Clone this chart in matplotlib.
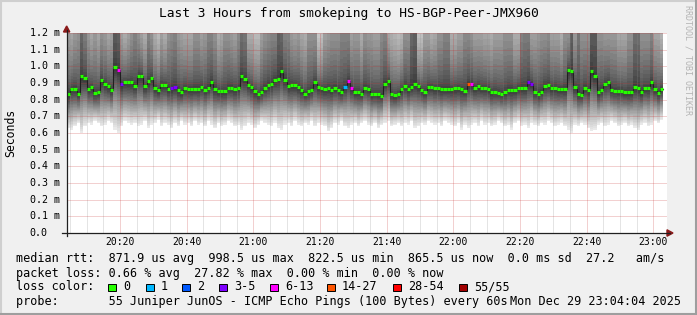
import matplotlib
matplotlib.use('Agg')
import matplotlib.pyplot as plt
from matplotlib.patches import Rectangle, Polygon
from matplotlib.lines import Line2D
import numpy as np

# median rtt per 60s step (ms), 20:04 .. 23:03
median_ms = [
    0.834, 0.866, 0.866, 0.836, 0.940, 0.930, 0.864, 0.874, 0.838, 0.844,
    0.920, 0.896, 0.880, 0.860, 0.9985, 0.976, 0.892, 0.906, 0.904, 0.904,
    0.884, 0.944, 0.944, 0.880, 0.910, 0.932, 0.870, 0.856, 0.890, 0.890,
    0.864, 0.868, 0.876, 0.856, 0.844, 0.872, 0.864, 0.864, 0.864, 0.864,
    0.878, 0.860, 0.872, 0.908, 0.864, 0.850, 0.850, 0.850, 0.872, 0.872,
    0.864, 0.870, 0.940, 0.924, 0.890, 0.876, 0.850, 0.834, 0.846, 0.872,
    0.890, 0.896, 0.916, 0.926, 0.970, 0.920, 0.880, 0.890, 0.886, 0.876,
    0.860, 0.836, 0.850, 0.860, 0.906, 0.876, 0.870, 0.864, 0.870, 0.860,
    0.870, 0.860, 0.846, 0.876, 0.910, 0.868, 0.844, 0.844, 0.836, 0.872,
    0.864, 0.834, 0.834, 0.834, 0.8225, 0.896, 0.914, 0.836, 0.826, 0.836,
    0.864, 0.884, 0.864, 0.876, 0.896, 0.880, 0.860, 0.846, 0.874, 0.878,
    0.868, 0.868, 0.864, 0.864, 0.864, 0.864, 0.868, 0.868, 0.864, 0.852,
    0.896, 0.892, 0.868, 0.880, 0.870, 0.872, 0.864, 0.844, 0.848, 0.840,
    0.834, 0.844, 0.860, 0.858, 0.856, 0.872, 0.872, 0.868, 0.904, 0.896,
    0.848, 0.836, 0.848, 0.884, 0.888, 0.868, 0.872, 0.864, 0.864, 0.864,
    0.980, 0.970, 0.876, 0.836, 0.830, 0.872, 0.856, 0.970, 0.940, 0.844,
    0.860, 0.896, 0.904, 0.860, 0.854, 0.854, 0.854, 0.844, 0.844, 0.844,
    0.876, 0.870, 0.844, 0.870, 0.870, 0.904, 0.864, 0.840, 0.8655,
]

# lost pings (of 55) where not zero
loss_steps = [15, 16, 31, 32, 83, 84, 85, 120, 121, 138, 139]
loss_counts = [8, 4, 4, 4, 1, 8, 7, 15, 9, 4, 4]

# pings slower than the 1.2 ms top of the chart, per step (smoke darkness at top)
slow_pings = [
    12, 11, 13, 14, 20, 17, 13, 11, 13, 11, 14, 13, 11, 12, 22, 21, 12, 10, 12, 14,
    16, 14, 12, 10, 16, 14, 10, 8, 12, 10, 14, 15, 16, 13, 12, 11, 11, 11, 14, 14,
    12, 13, 16, 16, 14, 10, 11, 14, 14, 13, 12, 15, 19, 18, 10, 10, 8, 8, 12, 14,
    15, 16, 16, 21, 20, 16, 16, 13, 12, 13, 11, 10, 14, 14, 14, 6, 7, 12, 13, 14,
    14, 14, 16, 16, 16, 12, 13, 13, 10, 14, 13, 13, 12, 12, 15, 16, 11, 10, 9, 8,
    9, 14, 14, 20, 21, 7, 7, 12, 12, 10, 11, 14, 14, 16, 16, 10, 10, 12, 12, 15,
    15, 14, 12, 12, 12, 11, 11, 10, 12, 12, 12, 14, 14, 14, 10, 10, 16, 17, 17, 12,
    12, 13, 14, 14, 15, 12, 12, 12, 10, 14, 14, 21, 13, 18, 14, 14, 14, 22, 22, 14,
    14, 13, 13, 13, 13, 11, 11, 11, 14, 14, 19, 19, 14, 14, 14, 16, 11, 11, 9,
]

# fastest ping per step (ms), bottom edge of the smoke
min_ms = [
    0.63, 0.62, 0.64, 0.66, 0.60, 0.64, 0.66, 0.65, 0.67, 0.66,
    0.64, 0.65, 0.67, 0.66, 0.62, 0.60, 0.64, 0.67, 0.66, 0.65,
    0.66, 0.64, 0.65, 0.67, 0.63, 0.65, 0.66, 0.68, 0.64, 0.66,
    0.65, 0.63, 0.66, 0.64, 0.67, 0.65, 0.66, 0.64, 0.67, 0.65,
    0.66, 0.64, 0.67, 0.65, 0.63, 0.66, 0.64, 0.65, 0.67, 0.66,
    0.64, 0.65, 0.62, 0.64, 0.66, 0.65, 0.63, 0.65, 0.67, 0.66,
    0.65, 0.64, 0.66, 0.63, 0.62, 0.65, 0.66, 0.64, 0.67, 0.65,
    0.64, 0.66, 0.65, 0.67, 0.64, 0.66, 0.65, 0.64, 0.61, 0.63,
    0.66, 0.65, 0.67, 0.64, 0.63, 0.65, 0.66, 0.64, 0.66, 0.67,
    0.65, 0.64, 0.66, 0.63, 0.65, 0.66, 0.67, 0.64, 0.65, 0.66,
    0.64, 0.66, 0.65, 0.67, 0.63, 0.64, 0.66, 0.65, 0.67, 0.66,
    0.65, 0.66, 0.64, 0.67, 0.66, 0.65, 0.64, 0.66, 0.62, 0.65,
    0.63, 0.65, 0.66, 0.64, 0.67, 0.65, 0.66, 0.64, 0.65, 0.67,
    0.66, 0.64, 0.65, 0.62, 0.66, 0.67, 0.64, 0.65, 0.63, 0.66,
    0.65, 0.64, 0.66, 0.65, 0.67, 0.66, 0.64, 0.65, 0.66, 0.64,
    0.62, 0.60, 0.65, 0.64, 0.66, 0.65, 0.63, 0.61, 0.62, 0.65,
    0.66, 0.64, 0.65, 0.67, 0.66, 0.64, 0.65, 0.66, 0.64, 0.65,
    0.63, 0.62, 0.65, 0.66, 0.64, 0.65, 0.67, 0.66, 0.68,
]

# x axis: minutes after 20:04
major_ticks = [16, 36, 56, 76, 96, 116, 136, 156, 176]
major_labels = ['20:20', '20:40', '21:00', '21:20', '21:40', '22:00', '22:20', '22:40', '23:00']
y_ticks = [0.0, 0.1, 0.2, 0.3, 0.4, 0.5, 0.6, 0.7, 0.8, 0.9, 1.0, 1.1, 1.2]
y_labels = ['0.0', '0.1 m', '0.2 m', '0.3 m', '0.4 m', '0.5 m', '0.6 m', '0.7 m',
            '0.8 m', '0.9 m', '1.0 m', '1.1 m', '1.2 m']

loss_labels = ['0', '1', '2', '3-5', '6-13', '14-27', '28-54', '55/55']
loss_upper = [0, 1, 2, 5, 13, 27, 54, 55]
loss_colors = ['#26ff00', '#00b8ff', '#0059ff', '#7e00ff', '#ff00ff', '#ff5500', '#ff0000', '#a10000']

W, H = 697, 315
MONO = 'DejaVu Sans Mono'
plt.rcParams['font.family'] = MONO


def fx(x):
    return x / W


def fy(y):
    return 1 - y / H


fig = plt.figure(figsize=(W / 100, H / 100), dpi=100, facecolor='#f0f0f0')

# 3d frame
fig.add_artist(Line2D([0, 1], [fy(1), fy(1)], color='#cfcfcf', lw=1.5))
fig.add_artist(Line2D([fx(1), fx(1)], [0, 1], color='#cfcfcf', lw=1.5))
fig.add_artist(Line2D([0, 1], [fy(314), fy(314)], color='#9e9e9e', lw=1.5))
fig.add_artist(Line2D([fx(696), fx(696)], [0, 1], color='#9e9e9e', lw=1.5))

ax = fig.add_axes([fx(66.67), fy(233), 600 / W, 200 / H])
ax.set_xlim(0, 180)
ax.set_ylim(0, 1.2)
ax.set_facecolor('white')
for s in ax.spines.values():
    s.set_visible(False)
ax.set_xticks([])
ax.set_yticks([])

n = len(median_ms)
med = np.array(median_ms)
xs = np.arange(n)
edges = np.arange(n + 1)

# smoke: 55 pings sorted, painted as 27 nested gray bands (outer light, inner dark)
half = 27
lower = np.zeros((half, n))
upper = np.zeros((half, n))
for i in range(n):
    m, lo, k = med[i], min_ms[i], slow_pings[i]
    for j in range(half):
        lower[j, i] = m - (m - lo) * (half - j) / half
        if j < k:
            upper[j, i] = 1.35
        else:
            upper[j, i] = m + (1.2 - m) * ((half - j) / (half + 1 - k)) ** 2
for j in range(half):
    g = int(190 / 27.5 * (27.5 - (j + 1))) + 50
    ax.fill_between(edges, np.append(lower[j], lower[j, -1]), np.append(upper[j], upper[j, -1]),
                    step='post', color='#%02x%02x%02x' % (g, g, g), lw=0, zorder=1)

# grid
for t in range(1, 180, 5):
    if t in major_ticks:
        continue
    ax.axvline(t, color='#8c8c8c', alpha=0.45, lw=0.72, ls=(0, (1, 1)), zorder=2)
for t in major_ticks:
    ax.axvline(t, color='#c83232', alpha=0.45, lw=0.72, ls=(0, (1, 1)), zorder=2)
for v in y_ticks[1:]:
    ax.axhline(v, color='#c83232', alpha=0.45, lw=0.72, ls=(0, (1, 1)), zorder=2)

# median line
ax.step(edges, np.append(med, med[-1]), where='post', color='#202020', lw=0.8, zorder=3)
lost = np.zeros(n, dtype=int)
lost[loss_steps] = loss_counts
seg_colors = [loss_colors[next(b for b, u in enumerate(loss_upper) if c <= u)] for c in lost]
ax.hlines(med, xs, xs + 1, colors=seg_colors, lw=2.3, zorder=4, capstyle='butt')

# axes with arrows
fig.add_artist(Line2D([fx(62), fx(670)], [fy(233), fy(233)], color='#202020', lw=0.9))
fig.add_artist(Line2D([fx(66.67), fx(66.67)], [fy(236), fy(30)], color='#202020', lw=0.9))
fig.add_artist(Polygon([[fx(63.5), fy(32)], [fx(69.8), fy(32)], [fx(66.67), fy(26)]],
                       closed=True, color='#8b1a1a'))
fig.add_artist(Polygon([[fx(667), fy(229.8)], [fx(667), fy(236.2)], [fx(673), fy(233)]],
                       closed=True, color='#8b1a1a'))

# tick labels
for t, lab in zip(major_ticks, major_labels):
    fig.text(fx(66.67 + t * 600 / 180), fy(242), lab, fontsize=7.0, ha='center', va='center')
for v, lab in zip(y_ticks, y_labels):
    fig.text(fx(29.5), fy(233 - v * 200 / 1.2), lab, fontsize=7.2, ha='left', va='center')

fig.text(fx(10.5), fy(133), 'Seconds', fontsize=8.3, rotation=90, ha='center', va='center')
fig.text(0.5, fy(14), 'Last 3 Hours from smokeping to HS-BGP-Peer-JMX960',
         fontsize=9.3, ha='center', va='center')
fig.text(fx(688), fy(5), 'RRDTOOL / TOBI OETIKER', fontsize=6, rotation=270,
         color='#b4b4b4', ha='center', va='top')

# legend
fs = 8.5
fig.text(fx(16), fy(258.5), 'median rtt:  871.9 us avg  998.5 us max  822.5 us min  '
         '865.5 us now  0.0 ms sd  27.2   am/s', fontsize=fs, va='center')
fig.text(fx(16), fy(273), 'packet loss: 0.66 % avg  27.82 % max  0.00 % min  0.00 % now',
         fontsize=fs, va='center')
fig.text(fx(16), fy(287), 'loss color:', fontsize=fs, va='center')
box_x = [108, 146, 182, 219, 270, 327, 393, 459]
for bx, lab, col in zip(box_x, loss_labels, loss_colors):
    fig.add_artist(Rectangle((fx(bx), fy(291)), 7.5 / W, 7.5 / H, facecolor=col,
                             edgecolor='black', lw=0.7))
    fig.text(fx(bx + 15), fy(287), lab, fontsize=fs, va='center')
fig.text(fx(16), fy(301.5), 'probe:       55 Juniper JunOS - ICMP Echo Pings (100 Bytes) every 60s',
         fontsize=fs, va='center')
fig.text(fx(681), fy(301.5), 'Mon Dec 29 23:04:04 2025', fontsize=fs, ha='right', va='center')

fig.savefig('out.png', dpi=100, facecolor=fig.get_facecolor())
